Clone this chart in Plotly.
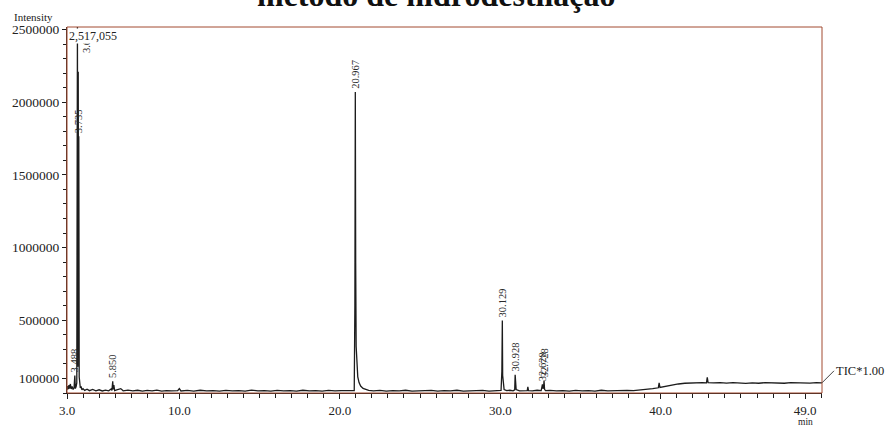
import plotly.graph_objects as go

# ---- data ----
times = [3.00, 3.04, 3.08, 3.12, 3.16, 3.21, 3.26, 3.32, 3.38, 3.44, 3.488, 3.52, 3.57, 3.61,
         3.65, 3.675, 3.70, 3.72, 3.735, 3.76, 3.79, 3.83, 3.88, 3.93, 4.0, 4.1, 4.25, 4.4, 4.6,
         4.8, 5.0, 5.2, 5.4, 5.6, 5.75, 5.80, 5.85, 5.88, 5.92, 5.97, 6.1, 6.35, 6.5, 6.8, 7.1,
         7.4, 7.7, 8.0, 8.3, 8.6, 8.9, 9.2, 9.5, 9.9, 10.0, 10.1, 10.5, 10.9, 11.3, 11.7, 12.1,
         12.5, 12.9, 13.3, 13.7, 14.1, 14.5, 14.9, 15.3, 15.7, 16.1, 16.5, 16.9, 17.3, 17.7,
         18.1, 18.5, 18.9, 19.3, 19.7, 20.1, 20.5, 20.9, 20.94, 20.967, 20.99, 21.02, 21.06,
         21.12, 21.2, 21.3, 21.45, 21.6, 21.8, 22.1, 22.5, 22.9, 23.3, 23.7, 24.1, 24.5, 24.9,
         25.3, 25.7, 26.1, 26.5, 26.9, 27.3, 27.7, 28.1, 28.5, 28.9, 29.3, 29.7, 30.05, 30.10,
         30.129, 30.15, 30.19, 30.24, 30.4, 30.6, 30.8, 30.90, 30.928, 30.95, 30.99, 31.2,
         31.45, 31.68, 31.72, 31.76, 32.0, 32.3, 32.55, 32.628, 32.66, 32.70, 32.728, 32.76,
         32.82, 33.1, 33.5, 33.9, 34.3, 34.7, 35.1, 35.5, 35.9, 36.3, 36.7, 37.1, 37.5, 37.9,
         38.3, 38.7, 39.1, 39.5, 39.85, 39.9, 39.95, 40.3, 40.7, 41.1, 41.5, 41.9, 42.3, 42.6,
         42.85, 42.9, 42.95, 43.3, 43.7, 44.1, 44.5, 44.9, 45.3, 45.7, 46.1, 46.5, 46.9, 47.3,
         47.7, 48.1, 48.5, 48.9, 49.3, 49.7, 50.05]
intensity = [22000, 48000, 26000, 55000, 30000, 62000, 28000, 45000, 24000, 35000, 120000, 30000, 45000, 70000,
             2517055, 180000, 2210000, 850000, 1765000, 110000, 60000, 35000, 45000, 22000, 30000, 18000, 26000, 16000, 24000,
             15000, 22000, 14000, 20000, 15000, 28000, 18000, 80000, 25000, 55000, 17000, 22000, 30000, 15000, 20000, 14000,
             19000, 13000, 18000, 14000, 20000, 13000, 17000, 14000, 16000, 30000, 14000, 18000, 13000, 19000, 14000, 17000,
             13000, 18000, 14000, 17000, 13000, 20000, 14000, 16000, 13000, 18000, 14000, 17000, 13000, 19000,
             14000, 16000, 13000, 18000, 14000, 17000, 15000, 17000, 600000, 2070000, 900000, 320000, 170000,
             110000, 72000, 48000, 32000, 24000, 18000, 15000, 18000, 13000, 17000, 14000, 19000, 13000, 16000,
             14000, 18000, 13000, 17000, 14000, 19000, 13000, 16000, 14000, 18000, 13000, 17000, 18000, 150000,
             498000, 120000, 55000, 24000, 16000, 19000, 15000, 22000, 125000, 60000, 24000, 15000,
             18000, 16000, 42000, 17000, 15000, 19000, 17000, 60000, 30000, 40000, 85000, 25000,
             16000, 18000, 14000, 17000, 13000, 18000, 14000, 17000, 13000, 19000, 14000, 17000, 15000, 18000,
             16000, 19000, 24000, 30000, 36000, 70000, 38000, 46000, 55000, 62000, 67000, 70000, 69000, 72000,
             70000, 108000, 72000, 69000, 71000, 68000, 72000, 69000, 66000, 70000, 67000, 71000, 68000, 70000,
             67000, 71000, 69000, 70000, 68000, 71000, 70000]

peak_rt = [3.488, 3.65, 3.735, 5.850, 20.967, 30.129, 30.928, 32.628, 32.728]
peak_height = [120000, 2320000, 1765000, 80000, 2070000, 498000, 125000, 60000, 85000]
peak_label = ["3.488", "3.650", "3.735", "5.850", "20.967", "30.129", "30.928", "32.628", "32.728"]

x_major = [3, 10, 20, 30, 40, 49]
x_major_text = ["3.0", "10.0", "20.0", "30.0", "40.0", "49.0"]
y_major = [100000, 500000, 1000000, 1500000, 2000000, 2500000]
y_major_text = ["100000", "500000", "1000000", "1500000", "2000000", "2500000"]
max_intensity = 2517055
x_range = [3.0, 50.05]

SERIF = "Liberation Serif, Times New Roman, serif"
INK = "#1c1c1c"

fig = go.Figure()
fig.add_trace(go.Scatter(x=times, y=intensity, mode="lines",
                         line=dict(color=INK, width=1.3), hoverinfo="skip", showlegend=False))

annotations = []
for rt, h, lab in zip(peak_rt, peak_height, peak_label):
    shift = 9 if lab == "3.650" else 0
    annotations.append(dict(x=rt, y=h, xref="x", yref="y", text=lab, showarrow=False,
                            textangle=-90, xanchor="center", yanchor="bottom", xshift=shift, yshift=1,
                            font=dict(family=SERIF, size=10.5, color="#2a2a2a")))

# max intensity label (drawn after peak labels so it covers them)
annotations.append(dict(x=0, y=1, xref="paper", yref="paper", text=f"{max_intensity:,}",
                        showarrow=False, xanchor="left", yanchor="top", xshift=1, yshift=-1,
                        bgcolor="white", borderpad=0,
                        font=dict(family=SERIF, size=12, color="#222")))
# title (mostly cut off at top of the page)
annotations.append(dict(x=0.49, y=1, xref="paper", yref="paper", text="<b>método de hidrodestilação</b>",
                        showarrow=False, xanchor="center", yanchor="middle", yshift=32,
                        font=dict(family=SERIF, size=32, color="#111")))
annotations.append(dict(x=0, y=1, xref="paper", yref="paper", text="Intensity",
                        showarrow=False, xanchor="right", yanchor="middle", xshift=-12, yshift=10,
                        font=dict(family=SERIF, size=11, color="#222")))
annotations.append(dict(x=0.978, y=0, xref="paper", yref="paper", text="min",
                        showarrow=False, xanchor="center", yanchor="middle", yshift=-28.5,
                        font=dict(family=SERIF, size=9.5, color="#222")))
annotations.append(dict(x=times[-1], y=intensity[-1], xref="x", yref="y", text="TIC*1.00",
                        showarrow=True, arrowhead=0, arrowwidth=1, arrowcolor="#444",
                        ax=12, ay=-12, xanchor="left", yanchor="middle",
                        font=dict(family=SERIF, size=12.5, color="#222")))

fig.update_layout(
    width=885, height=430,
    margin=dict(l=67, r=63, t=27, b=32),
    paper_bgcolor="white", plot_bgcolor="white",
    showlegend=False,
    annotations=annotations,
    shapes=[dict(type="rect", xref="paper", yref="paper", x0=0, x1=1, y0=0, y1=1,
                 line=dict(color="#a24a30", width=1), layer="above")],
    xaxis=dict(range=x_range, tickmode="array", tickvals=x_major, ticktext=x_major_text,
               ticks="outside", ticklen=5, tickcolor=INK, tickwidth=1,
               minor=dict(tick0=0, dtick=1, ticks="outside", ticklen=4, tickcolor=INK),
               showgrid=False, zeroline=False, showline=True, linecolor=INK, linewidth=1.2,
               tickfont=dict(family=SERIF, size=13, color="#222")),
    xaxis2=dict(overlaying="x", matches="x", anchor="y", side="bottom", tickmode="array",
                tickvals=x_major, ticks="inside", ticklen=4, tickcolor=INK,
                showticklabels=False, showgrid=False, zeroline=False, showline=False),
    yaxis=dict(range=[0, max_intensity], tickmode="array", tickvals=y_major, ticktext=y_major_text,
               ticks="outside", ticklen=4, tickcolor=INK,
               minor=dict(tick0=0, dtick=100000, ticks="outside", ticklen=3, tickcolor=INK),
               showgrid=False, zeroline=False, showline=True, linecolor="#3a2a25", linewidth=1.2,
               tickfont=dict(family=SERIF, size=13.5, color="#222")),
)

fig.write_html("out.html")
